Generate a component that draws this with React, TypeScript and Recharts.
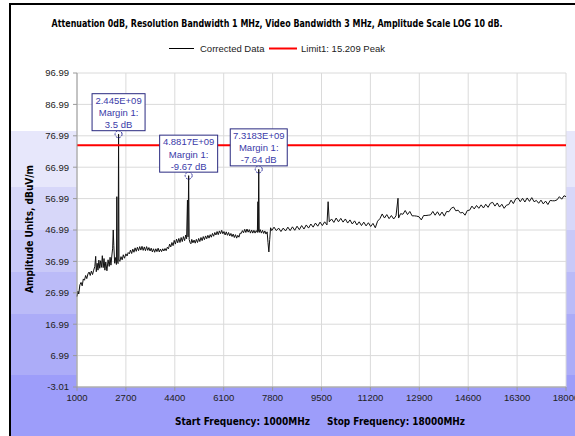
import { LineChart, Line, XAxis, YAxis, CartesianGrid, ReferenceLine, ReferenceDot } from 'recharts';

// frequency (MHz), corrected level (dBuV/m)
const correctedTrace: [number, number][] = [
  [1000, 25.8], [1030, 27.5], [1060, 26.6], [1100, 29.5], [1140, 30.3], [1180, 29.2], [1220, 31.4],
  [1260, 31.0], [1300, 32.5], [1340, 31.5], [1380, 33.0], [1420, 33.6], [1460, 32.5], [1500, 33.9],
  [1540, 32.8], [1580, 34.2], [1620, 35.4], [1650, 38.6], [1670, 33.7], [1700, 36.4], [1730, 34.2],
  [1760, 37.4], [1790, 34.8], [1820, 37.2], [1850, 35.1], [1880, 38.8], [1910, 35.0], [1940, 37.9],
  [1970, 34.2], [2000, 36.8], [2040, 34.0], [2080, 37.5], [2120, 35.4], [2150, 38.3], [2180, 35.8],
  [2210, 38.7], [2240, 41.2], [2260, 47.0], [2280, 42.0], [2310, 36.4], [2340, 38.2], [2370, 36.0],
  [2385, 57.6], [2400, 36.6], [2430, 36.3], [2445, 77.5], [2460, 37.4], [2490, 37.0], [2530, 38.5],
  [2570, 37.5], [2610, 39.1], [2650, 38.0], [2700, 39.4], [2740, 38.7], [2780, 39.8], [2820, 39.4],
  [2860, 40.6], [2900, 39.5], [2940, 40.9], [2980, 39.9], [3020, 41.3], [3060, 40.2], [3100, 41.5],
  [3140, 40.4], [3180, 41.7], [3220, 40.6], [3260, 41.8], [3300, 40.5], [3340, 41.6], [3380, 40.4],
  [3420, 41.7], [3460, 40.5], [3500, 41.4], [3540, 40.3], [3580, 41.2], [3620, 40.0], [3660, 41.0],
  [3700, 39.9], [3740, 41.0], [3780, 40.1], [3820, 41.2], [3860, 40.0], [3900, 40.9], [3940, 40.1],
  [3980, 41.0], [4020, 40.3], [4060, 41.1], [4100, 40.4], [4140, 41.5], [4180, 41.0], [4220, 42.5],
  [4260, 41.6], [4300, 43.0], [4340, 42.0], [4380, 43.7], [4420, 42.5], [4460, 44.1], [4500, 42.9],
  [4540, 44.3], [4580, 43.0], [4620, 44.6], [4660, 43.3], [4700, 44.9], [4740, 43.6], [4780, 45.4],
  [4810, 44.2], [4840, 56.5], [4860, 44.8], [4881.7, 64.3], [4900, 44.0], [4930, 43.0], [4960, 42.6],
  [4990, 44.0], [5030, 42.9], [5070, 43.8], [5110, 42.8], [5150, 44.0], [5190, 43.0], [5230, 44.3],
  [5270, 43.3], [5310, 44.6], [5350, 43.6], [5390, 44.9], [5430, 43.9], [5470, 45.1], [5510, 44.2],
  [5550, 45.3], [5590, 44.4], [5630, 45.5], [5670, 44.7], [5710, 45.9], [5750, 45.0], [5790, 46.2],
  [5830, 45.4], [5870, 46.5], [5910, 45.5], [5950, 46.7], [5990, 45.8], [6030, 46.9], [6070, 45.8],
  [6110, 46.5], [6150, 45.4], [6190, 46.4], [6230, 45.3], [6270, 46.2], [6310, 45.1], [6350, 45.9],
  [6390, 44.9], [6430, 45.7], [6470, 44.6], [6510, 45.5], [6550, 44.4], [6590, 45.3], [6630, 44.7],
  [6670, 46.0], [6710, 45.9], [6750, 46.8], [6790, 46.1], [6830, 47.2], [6870, 46.2], [6910, 47.3],
  [6950, 46.3], [6990, 47.1], [7030, 46.0], [7070, 47.0], [7110, 46.0], [7150, 46.9], [7190, 46.0],
  [7230, 46.8], [7270, 46.2], [7290, 56.0], [7300, 46.5], [7318.3, 66.3], [7335, 46.2], [7370, 47.1],
  [7410, 46.0], [7450, 46.9], [7490, 45.9], [7530, 46.7], [7570, 45.7], [7610, 46.4], [7640, 43.0],
  [7670, 40.0], [7700, 44.0], [7730, 47.7], [7770, 46.8], [7850, 47.9], [7930, 46.8], [8010, 47.6],
  [8090, 46.5], [8170, 47.6], [8250, 46.7], [8330, 47.9], [8410, 46.8], [8490, 48.0], [8570, 46.9],
  [8650, 48.2], [8730, 47.1], [8810, 48.4], [8890, 47.3], [8970, 48.6], [9050, 47.6], [9130, 48.9],
  [9210, 47.9], [9290, 49.2], [9370, 48.2], [9450, 49.5], [9530, 48.4], [9610, 49.6], [9690, 48.6],
  [9730, 56.0], [9770, 49.6], [9850, 50.5], [9930, 49.4], [10010, 50.8], [10090, 49.6], [10170, 50.7],
  [10250, 49.5], [10330, 50.5], [10410, 49.2], [10490, 50.2], [10570, 48.9], [10650, 49.9], [10730, 48.6],
  [10810, 49.6], [10890, 48.4], [10970, 49.5], [11050, 48.3], [11130, 49.3], [11210, 48.1], [11290, 49.1],
  [11370, 47.7], [11450, 49.8], [11530, 50.6], [11610, 52.1], [11690, 50.8], [11770, 51.9], [11850, 50.6],
  [11930, 51.6], [12010, 50.5], [12090, 51.5], [12160, 57.1], [12180, 50.8], [12250, 52.2], [12330, 52.0],
  [12410, 53.2], [12490, 51.9], [12570, 52.9], [12650, 51.5], [12730, 51.5], [12810, 51.4], [12890, 51.2],
  [12970, 50.2], [13050, 51.6], [13130, 51.6], [13210, 51.7], [13290, 51.8], [13370, 52.9], [13450, 51.7],
  [13530, 52.8], [13610, 51.6], [13690, 52.7], [13770, 51.4], [13850, 52.9], [13930, 52.8], [14010, 53.9],
  [14090, 54.3], [14170, 53.1], [14250, 53.3], [14330, 52.4], [14410, 52.6], [14490, 51.7], [14570, 53.2],
  [14650, 53.3], [14730, 54.6], [14810, 53.7], [14890, 54.8], [14970, 53.9], [15050, 55.0], [15130, 54.0],
  [15210, 55.2], [15290, 54.2], [15370, 55.5], [15450, 55.8], [15530, 54.6], [15610, 55.6], [15690, 54.3],
  [15770, 55.2], [15850, 53.9], [15930, 54.9], [16010, 55.1], [16090, 56.5], [16170, 55.4], [16250, 56.9],
  [16330, 57.2], [16410, 56.0], [16490, 57.1], [16570, 55.9], [16650, 57.2], [16730, 56.1], [16810, 57.3],
  [16890, 56.0], [16970, 56.4], [17050, 55.5], [17130, 56.5], [17210, 55.3], [17290, 56.2], [17370, 55.1],
  [17450, 56.4], [17530, 56.3], [17610, 56.3], [17690, 56.6], [17770, 57.6], [17850, 56.8], [17930, 57.9],
  [18000, 57.6],
];

const limitLevel = 74.0;

const markerFreq = [2445, 4881.7, 7318.3];
const markerLevel = [77.5, 64.3, 66.3];
const markerText = ['2.445E+09', '4.8817E+09', '7.3183E+09'];
const markerMargin = ['3.5 dB', '-9.67 dB', '-7.64 dB'];

const xTicks = [1000, 2700, 4400, 6100, 7800, 9500, 11200, 12900, 14600, 16300, 18000];
const yTicks = [-3.01, 6.99, 16.99, 26.99, 36.99, 46.99, 56.99, 66.99, 76.99, 86.99, 96.99];

const chartData = correctedTrace.map(([f, v]) => ({ f, v }));

const FONT = '"Liberation Sans", Arial, sans-serif';
const BOLD_FONT = '"DejaVu Sans", Verdana, sans-serif';
const boxWidths = [53, 58, 57];

const bandGradient =
  'linear-gradient(to bottom, #ffffff 0px, #ffffff 126px, #e7e7fb 126px, #e7e7fb 182px, ' +
  '#d7d7f9 182px, #d7d7f9 225px, #c9c9f8 225px, #c9c9f8 267px, #bbbbf8 267px, #bbbbf8 309px, ' +
  '#acacf8 309px, #acacf8 370px, #9d9dfa 370px, #9d9dfa 100%)';

function Marker(props: any) {
  const { cx, cy, i } = props;
  if (cx == null || cy == null) return null;
  const w = boxWidths[i];
  const h = 37;
  const bx = cx - w / 2;
  const by = cy - 3.5 - h;
  return (
    <g>
      <circle cx={cx} cy={cy} r={3.5} fill="none" stroke="#2b2b9a" strokeDasharray="2 1.2" />
      <rect x={bx} y={by} width={w} height={h} fill="#fff" stroke="#2a2a80" />
      <text x={cx} y={by + 10} textAnchor="middle" fontSize={9.5} fontFamily={FONT} fill="#3a3aa8">
        {markerText[i]}
      </text>
      <text x={cx} y={by + 22.5} textAnchor="middle" fontSize={9.5} fontFamily={FONT} fill="#3a3aa8">
        Margin 1:
      </text>
      <text x={cx} y={by + 34.5} textAnchor="middle" fontSize={9.5} fontFamily={FONT} fill="#3a3aa8">
        {markerMargin[i]}
      </text>
    </g>
  );
}

export default function App() {
  return (
    <div style={{ position: 'relative', width: 575, height: 436, background: '#fff', overflow: 'hidden' }}>
      <style>{'body{margin:0}'}</style>
      <div
        style={{
          position: 'absolute',
          left: 9,
          top: 3,
          right: 0,
          bottom: 0,
          borderLeft: '2px solid #000',
          borderTop: '2px solid #000',
          background: bandGradient,
        }}
      />
      <div style={{ position: 'absolute', left: 0, top: 0 }}>
        <LineChart width={575} height={436} data={chartData} margin={{ top: 73, right: 9, bottom: 19, left: 17 }}>
          <CartesianGrid fill="#fff" stroke="#dadada" />
          <XAxis
            dataKey="f"
            type="number"
            domain={[1000, 18000]}
            ticks={xTicks}
            interval={0}
            height={30}
            stroke="#9a9a9a"
            tickSize={4}
            tickMargin={3}
            tick={{ fill: '#222', fontSize: 9.5, fontFamily: FONT }}
          />
          <YAxis
            type="number"
            domain={[-3.01, 96.99]}
            ticks={yTicks}
            interval={0}
            width={60}
            stroke="#9a9a9a"
            tickSize={4}
            tickMargin={4}
            tick={{ fill: '#222', fontSize: 9.5, fontFamily: FONT }}
          />
          <Line
            dataKey="v"
            type="linear"
            stroke="#111"
            strokeWidth={1}
            dot={false}
            isAnimationActive={false}
          />
          {markerFreq.map((f, i) => (
            <ReferenceDot
              key={f}
              x={f}
              y={markerLevel[i]}
              r={3.5}
              shape={(p: any) => <Marker {...p} i={i} />}
            />
          ))}
          <ReferenceLine y={limitLevel} stroke="#ff0000" strokeWidth={2} />
        </LineChart>
      </div>
      <svg width={575} height={436} style={{ position: 'absolute', left: 0, top: 0, pointerEvents: 'none' }}>
        <text x={277} y={26.5} textAnchor="middle" fontSize={10} fontWeight="bold" fontFamily={BOLD_FONT}
          fill="#000" textLength={451} lengthAdjust="spacingAndGlyphs">
          Attenuation 0dB, Resolution Bandwidth 1 MHz, Video Bandwidth 3 MHz, Amplitude Scale LOG 10 dB.
        </text>
        <line x1={169} x2={194} y1={48.5} y2={48.5} stroke="#000" strokeWidth={1} />
        <text x={200} y={52} fontSize={9.5} fontFamily={FONT} fill="#222">Corrected Data</text>
        <line x1={269} x2={297} y1={48.5} y2={48.5} stroke="#ff0000" strokeWidth={2} />
        <text x={301} y={52} fontSize={9.5} fontFamily={FONT} fill="#222">Limit1: 15.209 Peak</text>
        <text x={0} y={0} transform="translate(32.5,229) rotate(-90)" textAnchor="middle" fontSize={10}
          fontWeight="bold" fontFamily={BOLD_FONT} fill="#000" textLength={128} lengthAdjust="spacingAndGlyphs">
          Amplitude Units, dBuV/m
        </text>
        <text x={175} y={425} fontSize={10} fontWeight="bold" fontFamily={BOLD_FONT} fill="#000"
          textLength={135} lengthAdjust="spacingAndGlyphs">
          Start Frequency: 1000MHz
        </text>
        <text x={327} y={425} fontSize={10} fontWeight="bold" fontFamily={BOLD_FONT} fill="#000"
          textLength={138} lengthAdjust="spacingAndGlyphs">
          Stop Frequency: 18000MHz
        </text>
      </svg>
    </div>
  );
}
